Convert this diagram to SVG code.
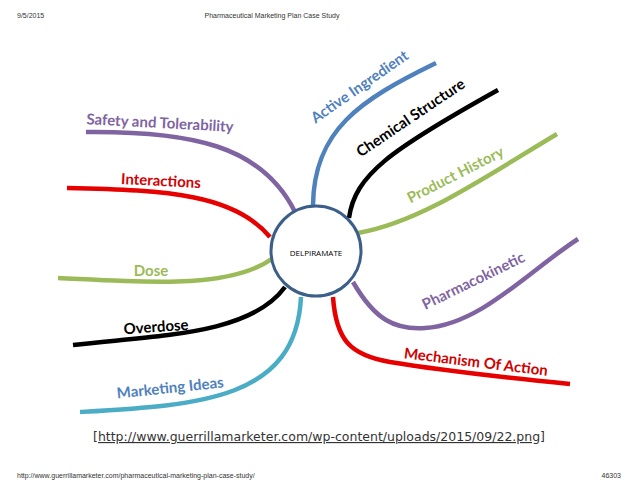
<svg xmlns="http://www.w3.org/2000/svg" width="638" height="493" viewBox="0 0 638 493">
<style>
.c{fill:none;stroke-width:4.5;stroke-linecap:butt}
.lbl{font-family:Lato,"Open Sans","Liberation Sans",sans-serif;font-weight:bold;font-size:15px;text-anchor:middle;dominant-baseline:central}
.hdr{font-family:"Liberation Sans",Arial,sans-serif;font-size:7px;fill:#333}
.pur{stroke:#8064a2}.red{stroke:#e60000}.grn{stroke:#9bbb59}.blk{stroke:#000}.teal{stroke:#4bacc6}.blu{stroke:#4f81bd}
</style>
<rect width="638" height="493" fill="#fff"/>
<text class="hdr" x="17" y="18">9/5/2015</text>
<text class="hdr" x="272" y="18" text-anchor="middle">Pharmaceutical Marketing Plan Case Study</text>
<text class="hdr" x="17" y="478">http://www.guerrillamarketer.com/pharmaceutical-marketing-plan-case-study/</text>
<text class="hdr" x="621" y="478" text-anchor="end">46303</text>
<g id="connectors">
<path class="c pur" d="M86,132 C190,131 262,145 295,212"/>
<path class="c red" d="M67,188 C170,190 235,195 270,237"/>
<path class="c grn" d="M58,278 C140,282 230,290 273,258"/>
<path class="c blk" d="M73,345 C160,335 250,335 285,287"/>
<path class="c teal" d="M80,412 C200,405 296,400 301,297"/>
<path class="c blu" d="M313,205 C314,130 360,100 436,63"/>
<path class="c blk" d="M349,218 C355,175 390,150 498,90"/>
<path class="c grn" d="M358,233 C420,222 480,180 557,134"/>
<path class="c pur" d="M353,282 C375,320 395,330 425,328 C480,325 530,270 578,239"/>
<path class="c red" d="M333,297 C336,340 350,355 390,362 C450,372 510,378 570,384"/>
</g>
<g id="center">
<circle cx="316" cy="251" r="45" fill="#fff" stroke="#3c5f8a" stroke-width="3"/>
<text x="316" y="252" font-family="'Open Sans','Liberation Sans',sans-serif" font-size="8" text-anchor="middle" dominant-baseline="central" fill="#000">DELPIRAMATE</text>
</g>
<g id="safety"><text class="lbl" fill="#8064a2" transform="translate(160,122) rotate(3)">Safety and Tolerability</text></g>
<g id="interactions"><text class="lbl" fill="#d40000" transform="translate(161,180) rotate(3)">Interactions</text></g>
<g id="dose"><text class="lbl" fill="#9bbb59" transform="translate(151,270)">Dose</text></g>
<g id="overdose"><text class="lbl" fill="#000" transform="translate(156,326) rotate(-4)">Overdose</text></g>
<g id="marketing"><text class="lbl" fill="#4f81bd" transform="translate(170,387) rotate(-6)">Marketing Ideas</text></g>
<g id="active"><text class="lbl" fill="#4f81bd" transform="translate(359,86) rotate(-35)">Active Ingredient</text></g>
<g id="chemical"><text class="lbl" fill="#000" transform="translate(410,117) rotate(-34)">Chemical Structure</text></g>
<g id="history"><text class="lbl" fill="#9bbb59" transform="translate(455,174) rotate(-27)">Product History</text></g>
<g id="pharmacokinetic"><text class="lbl" fill="#8064a2" transform="translate(473,280) rotate(-26)">Pharmacokinetic</text></g>
<g id="mechanism"><text class="lbl" fill="#d40000" transform="translate(476,361) rotate(7)">Mechanism Of Action</text></g>
<text x="93" y="441" font-family="'DejaVu Sans',Verdana,sans-serif" font-size="11.5" fill="#333" text-decoration="underline" textLength="452" lengthAdjust="spacingAndGlyphs">[http://www.guerrillamarketer.com/wp-content/uploads/2015/09/22.png]</text>
</svg>
